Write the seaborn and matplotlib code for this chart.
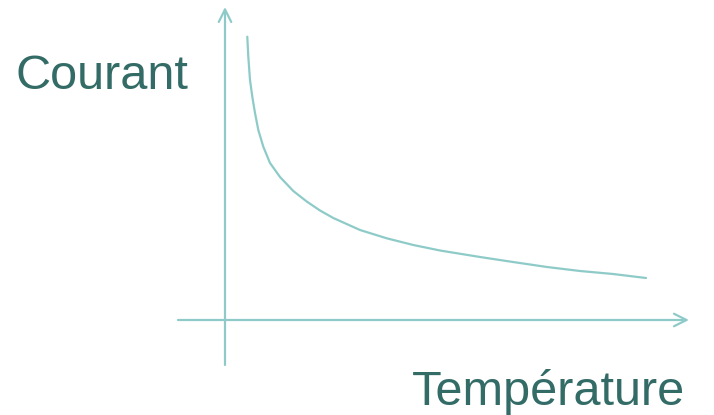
import matplotlib
matplotlib.use("Agg")
import matplotlib.pyplot as plt
import seaborn as sns
import pandas as pd

# valeurs (unités arbitraires, origine au croisement des axes)
temperature = [22.3, 23.3, 25, 27.3, 30, 33.3, 38.3, 45, 55, 68.3, 81.7, 95, 108.3,
               135, 161.7, 188.3, 215, 255, 288, 322, 355, 388, 421]
courant = [283.3, 263.3, 240, 223.3, 207, 190, 173.3, 157, 143, 129, 118.5, 109.5, 102,
           90, 81.7, 75, 69.5, 63, 58, 53, 49, 46, 42]

x_label = "Température"
y_label = "Courant"

line_color = "#8ecbc8"
text_color = "#336b66"

sns.set_style("white")
plt.rcParams["font.family"] = ["Liberation Sans", "DejaVu Sans"]

df = pd.DataFrame({"T": temperature, "I": courant})

fig = plt.figure(figsize=(7.14, 4.15), dpi=100)
ax = fig.add_axes([0, 0, 1, 1])
sns.lineplot(data=df, x="T", y="I", color=line_color, linewidth=1.6, ax=ax)

ax.set_xlim(-225, 489)
ax.set_ylim(-95, 320)

# axes avec flèches
arrow = dict(arrowstyle="->,head_length=0.9,head_width=0.45", color=line_color, lw=1.6,
             shrinkA=0, shrinkB=0)
ax.annotate("", xy=(464, 0), xytext=(-47, 0), arrowprops=arrow)
ax.annotate("", xy=(0, 313), xytext=(0, -45), arrowprops=arrow)

ax.text(-209, 231, y_label, fontsize=35, color=text_color, va="baseline", ha="left")
ax.text(187, -85, x_label, fontsize=35, color=text_color, va="baseline", ha="left")

ax.set_axis_off()
fig.savefig("out.png", dpi=100)
